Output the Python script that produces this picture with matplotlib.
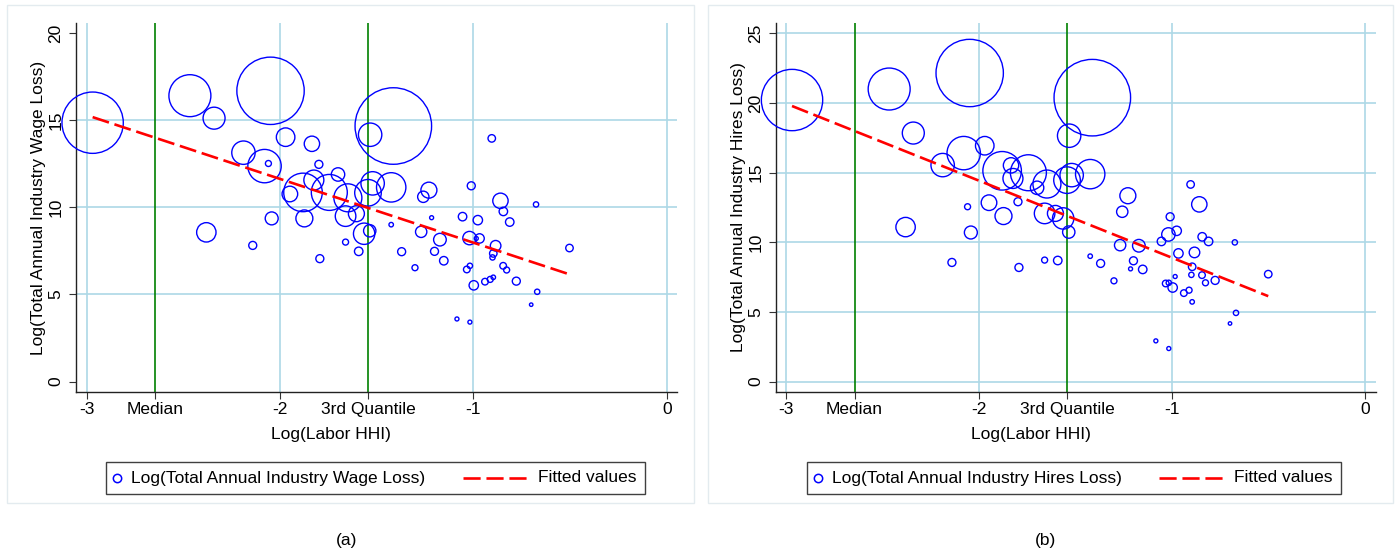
import numpy as np
import matplotlib
matplotlib.use("Agg")
from matplotlib import pyplot as plt
from matplotlib.lines import Line2D
from matplotlib.patches import Rectangle

plt.rcParams['font.family'] = ['Liberation Sans', 'DejaVu Sans']
plt.rcParams['font.size'] = 12.5

# ---- data ----
# log labor HHI per industry (shared by both panels)
hhi = [-2.969, -2.466, -2.341, -2.049, -1.971, -1.835, -2.189, -2.080, -2.060, -1.799,
       -1.881, -1.949, -1.825, -1.745, -1.700, -1.649, -1.661, -1.605, -1.874, -2.043,
       -2.381, -2.141, -1.794, -1.661, -1.593, -1.565, -1.536, -1.414, -1.534, -1.545,
       -1.521, -1.425,
       -1.259, -1.230, -1.216, -1.425, -1.270, -1.173, -1.056, -0.977, -1.011, -0.905,
       -0.860, -0.845, -0.812, -0.676, -0.503, -1.020, -0.968, -0.985, -0.885, -0.897,
       -0.901, -1.371, -1.201, -1.153, -1.302, -1.018, -1.034, -0.846, -0.828, -0.998,
       -0.940, -0.913, -0.897, -0.778, -0.670, -0.701, -1.085, -1.018]

wage_loss = [14.85, 16.40, 15.11, 16.68, 14.02, 13.64, 13.13, 12.36, 12.51, 12.46,
             10.85, 10.76, 11.56, 10.85, 11.88, 10.54, 9.49, 9.63, 9.36, 9.36,
             8.56, 7.81, 7.05, 8.00, 7.47, 8.48, 8.65, 14.66, 14.16, 10.83,
             11.37, 11.14,
             10.60, 10.98, 9.40, 9.00, 8.59, 8.14, 9.46, 9.26, 11.23, 13.95,
             10.37, 9.76, 9.15, 10.16, 7.66, 8.23, 8.21, 8.21, 7.79, 7.35,
             7.12, 7.45, 7.47, 6.93, 6.53, 6.64, 6.43, 6.64, 6.40, 5.52,
             5.73, 5.86, 5.98, 5.76, 5.15, 4.41, 3.59, 3.41]

hires_loss = [20.21, 21.00, 17.84, 22.15, 16.93, 15.52, 15.54, 16.40, 12.55, 12.91,
              15.13, 12.84, 14.58, 14.99, 13.91, 14.18, 12.07, 12.07, 11.88, 10.70,
              11.09, 8.55, 8.19, 8.72, 8.69, 11.71, 10.73, 20.38, 17.65, 14.46,
              14.82, 14.89,
              12.19, 13.34, 8.09, 9.00, 9.79, 9.75, 10.06, 10.82, 11.83, 14.15,
              12.72, 10.39, 10.06, 9.99, 7.71, 10.56, 9.20, 7.54, 9.27, 8.24,
              7.66, 8.48, 8.67, 8.05, 7.23, 7.09, 7.04, 7.64, 7.09, 6.75,
              6.35, 6.56, 5.72, 7.26, 4.93, 4.17, 2.92, 2.37]

# bubble weights (relative area)
weight = [942, 441, 121, 1136, 86, 59, 137, 279, 9, 16,
          372, 61, 100, 324, 45, 196, 106, 64, 72, 42,
          94, 16, 16, 9, 18, 114, 38, 1467, 137, 177,
          137, 216,
          32, 64, 4, 5, 32, 40, 18, 22, 16, 14,
          59, 18, 18, 7, 14, 45, 22, 4, 28, 14,
          7, 16, 16, 18, 9, 7, 11, 11, 9, 22,
          11, 9, 5, 16, 7, 3, 4, 4]

median_hhi = -2.645
q3_hhi = -1.543

# fitted line values at the ends of the HHI range
fit_wage = [15.17, 6.15]
fit_hires = [19.78, 6.13]

x_ticks = [-3, median_hhi, -2, q3_hhi, -1, 0]
x_ticklabels = ['-3', 'Median', '-2', '3rd Quantile', '-1', '0']

W, H = 1397, 554
fig = plt.figure(figsize=(W / 100, H / 100), dpi=100)


def fx(px):
    return px / W


def fy(py):
    return 1 - py / H


panels = [
    dict(x0=76, x1=677, y=wage_loss, fit=fit_wage, xlim=(-3.055, 0.053), ylim=(-0.6, 20.57),
         yticks=[0, 5, 10, 15, 20], ygrid=[5, 10, 15],
         ylabel='Log(Total Annual Industry Wage Loss)', frame=(7.3, 694.3),
         legend=(106, 645), cap='(a)', capx=347),
    dict(x0=776, x1=1376, y=hires_loss, fit=fit_hires, xlim=(-3.052, 0.055), ylim=(-0.75, 25.74),
         yticks=[0, 5, 10, 15, 20, 25], ygrid=[0, 5, 10, 15, 20, 25],
         ylabel='Log(Total Annual Industry Hires Loss)', frame=(707.7, 1393.3),
         legend=(807, 1341), cap='(b)', capx=1046),
]

top, bottom = 23, 392
fit_x = [min(hhi), max(hhi)]
dash = (6.5, 2.2)

for p in panels:
    # panel frame
    fl, fr = p['frame']
    fig.add_artist(Rectangle((fx(fl), fy(503.3)), fx(fr - fl), (503.3 - 5.3) / H,
                             transform=fig.transFigure, fill=False,
                             edgecolor='#e3ebef', lw=1))

    ax = fig.add_axes([fx(p['x0']), fy(bottom), fx(p['x1'] - p['x0']), (bottom - top) / H])
    ax.set_xlim(*p['xlim'])
    ax.set_ylim(*p['ylim'])

    # grid
    for g in [-3, -2, -1, 0]:
        ax.axvline(g, color='#add8e6', lw=1.2, zorder=0)
    for g in p['ygrid']:
        ax.axhline(g, color='#add8e6', lw=1.2, zorder=0)
    ax.axvline(median_hhi, color='green', lw=1.2, zorder=1)
    ax.axvline(q3_hhi, color='green', lw=1.2, zorder=1)

    ax.scatter(hhi, p['y'], s=np.array(weight) * 2.07, facecolors='none',
               edgecolors='blue', linewidths=1.0, zorder=3, clip_on=False)
    ax.plot(fit_x, p['fit'], color='red', lw=1.9, dashes=dash, zorder=4)

    for s in ['top', 'right']:
        ax.spines[s].set_visible(False)
    for s in ['left', 'bottom']:
        ax.spines[s].set_color('#222222')
        ax.spines[s].set_linewidth(1.0)

    ax.set_xticks(x_ticks)
    ax.set_xticklabels(x_ticklabels)
    ax.set_yticks(p['yticks'])
    ax.tick_params(direction='out', length=5, width=0.8, color='#333333')
    ax.tick_params(axis='x', pad=2)
    ax.tick_params(axis='y', labelrotation=90, pad=4)
    for lab in ax.get_yticklabels():
        lab.set_va('center')

    ax.set_xlabel('Log(Labor HHI)')
    ax.xaxis.set_label_coords(0.425, -0.095)
    ax.set_ylabel(p['ylabel'])
    ax.yaxis.set_label_coords(-0.05, 0.5)

    # legend box
    L, R = p['legend']
    fig.add_artist(Rectangle((fx(L), fy(494)), fx(R - L), (494 - 462) / H,
                             transform=fig.transFigure, fill=False,
                             edgecolor='#404040', lw=1))
    fig.add_artist(Line2D([fx(L + 11)], [fy(478)], transform=fig.transFigure,
                          marker='o', ms=6, mfc='none', mec='blue', mew=1.1, ls='none'))
    fig.text(fx(L + 25), fy(478), p['ylabel'], va='center', ha='left')
    fig.add_artist(Line2D([fx(R - 182), fx(R - 117)], [fy(478), fy(478)],
                          transform=fig.transFigure, color='red', lw=1.9, dashes=dash))
    fig.text(fx(R - 107), fy(478), 'Fitted values', va='center', ha='left')

    fig.text(fx(p['capx']), fy(541), p['cap'], ha='center', va='center')

plt.savefig('out.png', dpi=100, facecolor='white')
